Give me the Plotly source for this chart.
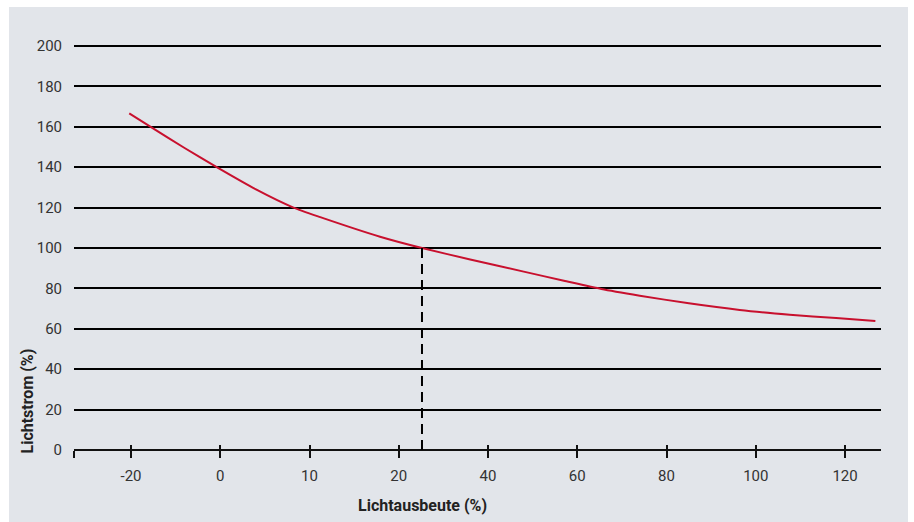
import plotly.graph_objects as go

# Axis categories (evenly spaced positions on the x axis)
x_labels = ["-20", "0", "10", "20", "40", "60", "80", "100", "120"]
x_positions = list(range(len(x_labels)))

# Luminous flux curve, x given in axis-position units
curve_pos = [-0.02, 0.22, 0.60, 0.96, 1.40, 1.82, 2.12, 2.79, 3.26, 3.80, 4.40, 4.85, 5.27, 5.70, 6.25, 6.82, 7.38, 7.90, 8.34]
curve_val = [166.7, 160.0, 149.5, 140.0, 129.0, 120.0, 115.3, 105.6, 100.0, 94.3, 88.3, 83.8, 79.7, 76.4, 72.6, 69.3, 67.0, 65.3, 63.9]

# Reference point (100 % luminous flux)
ref_pos = 3.26
ref_val = 100

y_ticks = list(range(0, 201, 20))

x_min, x_max = -0.639, 8.403
y_min, y_max = 0, 201

bg = "#e2e5ea"
red = "#c8102e"
font_family = "Roboto, DejaVu Sans, sans-serif"

fig = go.Figure()

fig.add_trace(go.Scatter(
    x=curve_pos, y=curve_val, mode="lines",
    line=dict(color=red, width=2, shape="spline", smoothing=0.6),
    hoverinfo="skip", showlegend=False,
))

fig.add_trace(go.Scatter(
    x=[ref_pos, ref_pos], y=[0, ref_val], mode="lines",
    line=dict(color="black", width=2, dash="10px,6px"),
    xaxis="x2", hoverinfo="skip", showlegend=False,
))

L, R, T, B = 74, 33, 44, 72
W, H = 914, 522
pw, ph = W - L - R, H - T - B

def px_x(p):
    return (p - L) / pw

def px_y(p):
    return (H - B - p) / ph

# Grey panel behind the chart
fig.add_shape(type="rect", xref="paper", yref="paper",
              x0=px_x(9), x1=px_x(908), y0=px_y(H), y1=px_y(7),
              fillcolor=bg, line=dict(width=0), layer="below")

tickvals = [x_min + 0.004] + x_positions
ticktext = [""] + x_labels

fig.update_layout(
    width=W, height=H,
    margin=dict(l=L, r=R, t=T, b=B),
    paper_bgcolor="white",
    plot_bgcolor=bg,
    font=dict(family=font_family, size=15, color="#333333"),
    xaxis=dict(
        range=[x_min, x_max], tickmode="array", tickvals=tickvals, ticktext=ticktext,
        showgrid=False, zeroline=False, showline=False,
        ticks="outside", ticklen=7, tickwidth=1.5, tickcolor="#111111",
        ticklabelstandoff=5, fixedrange=True,
    ),
    xaxis2=dict(
        range=[x_min, x_max], overlaying="x", anchor="y", side="bottom",
        tickmode="array", tickvals=tickvals, showticklabels=False,
        showgrid=False, zeroline=False, showline=False,
        ticks="inside", ticklen=5, tickwidth=1.5, tickcolor="#111111",
    ),
    yaxis=dict(
        range=[y_min, y_max], tickmode="array", tickvals=y_ticks,
        showgrid=True, gridcolor="black", gridwidth=2,
        zeroline=True, zerolinecolor="#111111", zerolinewidth=1.5,
        showline=False, ticks="", ticklabelstandoff=11, fixedrange=True,
    ),
    annotations=[
        dict(text="<b>Lichtstrom (%)</b>", textangle=-90, xref="paper", yref="paper",
             x=px_x(27), y=px_y(456), xanchor="center", yanchor="bottom",
             showarrow=False, font=dict(size=16, color="#222222")),
        dict(text="<b>Lichtausbeute (%)</b>", xref="paper", yref="paper",
             x=px_x(422), y=px_y(505), xanchor="center", yanchor="middle",
             showarrow=False, font=dict(size=16, color="#222222")),
    ],
)

fig.write_html("out.html")
